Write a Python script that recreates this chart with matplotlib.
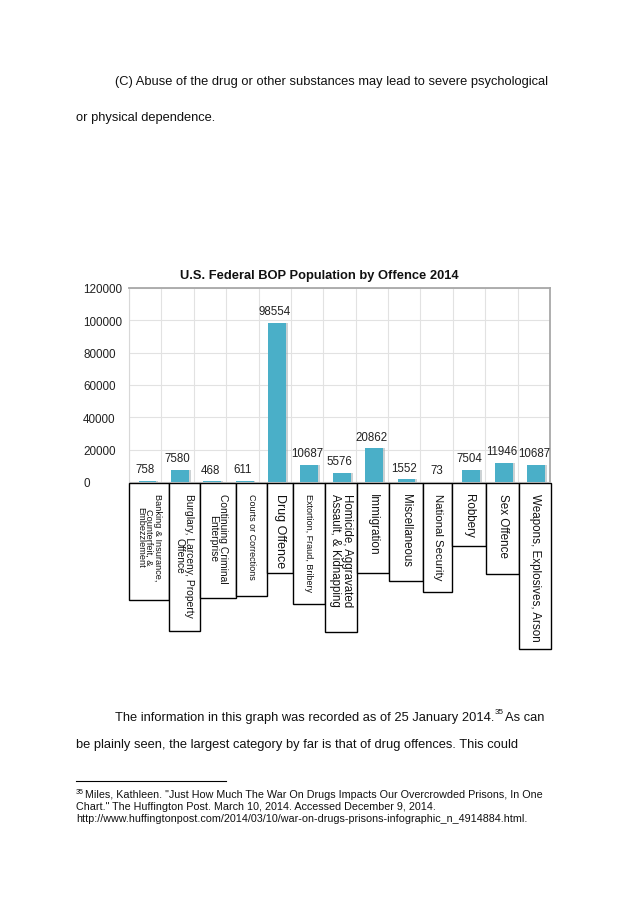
import matplotlib
matplotlib.use("Agg")
import matplotlib.pyplot as plt
from matplotlib.patches import Rectangle
from matplotlib.lines import Line2D
import numpy as np

# ---------------- data ----------------
categories = [
    "Banking & Insurance,\nCounterfeit, &\nEmbezzlement",
    "Burglary, Larceny, Property\nOffence",
    "Continuing Criminal\nEnterprise",
    "Courts or Corrections",
    "Drug Offence",
    "Extortion, Fraud, Bribery",
    "Homicide, Aggravated\nAssault, & Kidnapping",
    "Immigration",
    "Miscellaneous",
    "National Security",
    "Robbery",
    "Sex Offence",
    "Weapons, Explosives, Arson",
]
population = [758, 7580, 468, 611, 98554, 10687, 5576, 20862, 1552, 73, 7504, 11946, 10687]
yticks = [0, 20000, 40000, 60000, 80000, 100000, 120000]
title = "U.S. Federal BOP Population by Offence 2014"

# ---------------- layout / style ----------------
W, H = 638, 903
label_sizes = [6.6, 7.4, 7.4, 6.45, 9.0, 6.5, 8.3, 8.5, 8.3, 8.2, 8.4, 8.4, 8.4]
box_edges_px = [129, 169, 200, 236, 267, 293, 325, 357, 389, 423, 452, 486, 519, 551]
box_bottoms_px = [601, 632, 599, 597, 574, 605, 633, 574, 582, 593, 547, 575, 650]
box_top_px = 484
bar_color = "#4AAFC8"
FONT = "Liberation Sans"

plt.rcParams["font.family"] = [FONT, "DejaVu Sans"]

fig = plt.figure(figsize=(W / 100, H / 100), dpi=100)
fig.patch.set_facecolor("white")


def fx(px):
    return px / W


def fy(py):
    return 1 - py / H


# ---------------- chart ----------------
ax_l, ax_r, ax_t, ax_b = 129, 550, 289, 483
ax = fig.add_axes([fx(ax_l), fy(ax_b), (ax_r - ax_l) / W, (ax_b - ax_t) / H])
n = len(categories)
x = np.arange(n)
ax.set_xlim(-0.5, n - 0.5)
ax.set_ylim(0, 120000)

# shadow then bars
ax.bar(x + 0.13, population, width=0.55, color="#9aa7ab", alpha=0.5, zorder=2)
ax.bar(x + 0.07, population, width=0.55, color=bar_color, zorder=3)

for xi, v in zip(x, population):
    ax.text(xi, v + 3500, str(v), ha="center", va="bottom", fontsize=8.3,
            color="#222222", zorder=4)

ax.set_yticks(yticks)
ax.set_yticklabels([str(t) for t in yticks])
ax.set_xticks(x - 0.5, minor=False)
ax.set_xticklabels([])
ax.tick_params(axis="both", length=0)
ax.tick_params(axis="y", labelsize=8.4, labelcolor="#222222", pad=33)
for lab in ax.get_yticklabels():
    lab.set_horizontalalignment("left")
ax.grid(True, color="#e2e2e2", linewidth=0.8, zorder=0)
ax.set_axisbelow(True)
for side in ["left", "bottom"]:
    ax.spines[side].set_color("#d8d8d8")
for side in ["top", "right"]:
    ax.spines[side].set_color("#a8a8a8")
    ax.spines[side].set_linewidth(1.3)

fig.text(fx(319), fy(276), title, ha="center", va="center", fontsize=9.25,
         fontweight="bold", color="#111111")

# label boxes
for i, lab in enumerate(categories):
    l, r = box_edges_px[i], box_edges_px[i + 1]
    b = box_bottoms_px[i]
    rect = Rectangle((fx(l), fy(b)), (r - l) / W, (b - box_top_px) / H,
                     transform=fig.transFigure, facecolor="white",
                     edgecolor="black", linewidth=1.0, zorder=5)
    fig.add_artist(rect)
    fig.text(fx((l + r) / 2), fy(box_top_px + 10), lab, rotation=-90,
             ha="center", va="top", fontsize=label_sizes[i], color="#111111",
             linespacing=0.95, zorder=6)

# ---------------- page text ----------------
body = 9.3
fig.text(fx(115), fy(82), "(C) Abuse of the drug or other substances may lead to severe psychological",
         ha="left", va="center", fontsize=body, color="#111111")
fig.text(fx(76), fy(118), "or physical dependence.",
         ha="left", va="center", fontsize=body, color="#111111")
t = fig.text(fx(115), fy(718), "The information in this graph was recorded as of 25 January 2014.",
             ha="left", va="center", fontsize=body, color="#111111")
fig.canvas.draw()
ext = t.get_window_extent()
x_end = ext.x1
fig.text(x_end / W + 0.5 / W, fy(713), "35", ha="left", va="center", fontsize=5.8, color="#111111")
fig.text(x_end / W + 11 / W, fy(718), "As can", ha="left", va="center", fontsize=body, color="#111111")
fig.text(fx(76), fy(745), "be plainly seen, the largest category by far is that of drug offences. This could",
         ha="left", va="center", fontsize=body, color="#111111")

fig.add_artist(Line2D([fx(76), fx(226)], [fy(782), fy(782)], transform=fig.transFigure,
                      color="black", linewidth=0.8))
fn = 7.75
fig.text(fx(76), fy(793), "35", ha="left", va="center", fontsize=5.0, color="#111111")
fig.text(fx(85), fy(795), "Miles, Kathleen. \"Just How Much The War On Drugs Impacts Our Overcrowded Prisons, In One",
         ha="left", va="center", fontsize=fn, color="#111111")
fig.text(fx(76), fy(807), "Chart.\" The Huffington Post. March 10, 2014. Accessed December 9, 2014.",
         ha="left", va="center", fontsize=fn, color="#111111")
fig.text(fx(76), fy(819), "http://www.huffingtonpost.com/2014/03/10/war-on-drugs-prisons-infographic_n_4914884.html.",
         ha="left", va="center", fontsize=fn, color="#111111")

fig.savefig("out.png", dpi=100, facecolor="white")
